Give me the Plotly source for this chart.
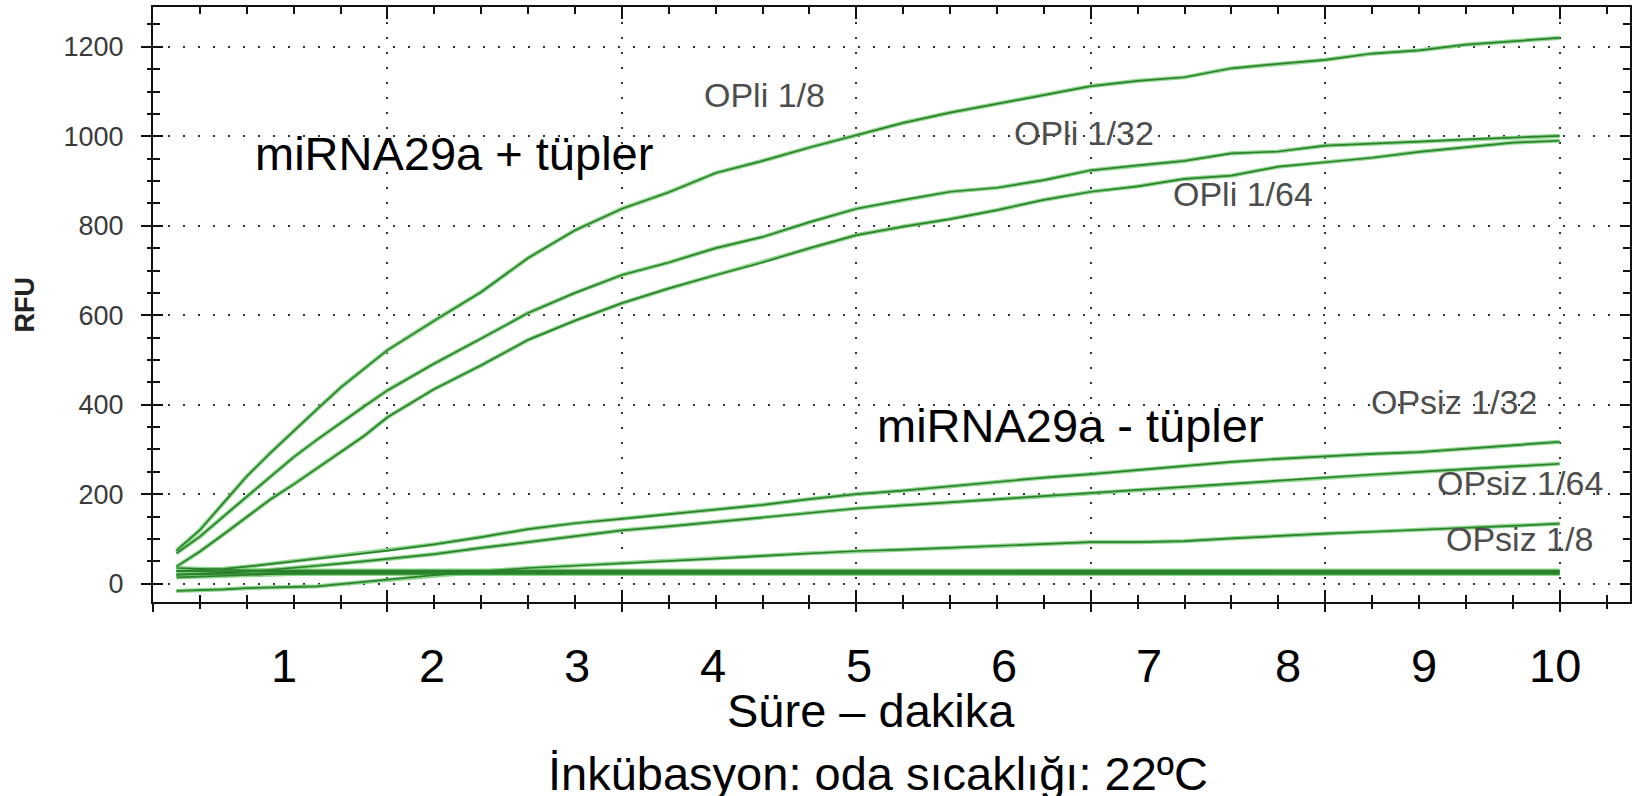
import plotly.graph_objects as go

# ---------------- data ----------------
cycles = [1, 2, 3, 4, 5, 6, 7, 8, 9, 10, 12, 14, 16, 18, 20, 22, 24, 26, 28, 30,
          32, 34, 36, 38, 40, 42, 44, 46, 48, 50, 52, 54, 56, 58, 60]

opli_1_8 = [74, 120, 180, 240, 292, 342, 390, 438, 480, 522, 588, 652, 728, 790, 838,
            875, 918, 945, 975, 1003, 1030, 1053, 1072, 1092, 1112, 1124, 1132, 1152,
            1162, 1171, 1185, 1192, 1205, 1213, 1220]
opli_1_32 = [68, 105, 150, 195, 240, 283, 322, 360, 396, 432, 492, 548, 605, 650, 690,
             718, 750, 775, 808, 838, 858, 876, 885, 902, 924, 935, 945, 962, 966, 979,
             983, 988, 993, 997, 1001]
opli_1_64 = [38, 72, 110, 150, 188, 222, 258, 294, 330, 372, 435, 488, 545, 588, 627,
             660, 690, 718, 750, 779, 798, 815, 835, 858, 876, 888, 905, 912, 932, 942,
             952, 965, 975, 986, 990]
opsiz_1_32 = [28, 30, 33, 38, 44, 50, 56, 62, 68, 74, 88, 104, 122, 135, 145, 155, 165,
              176, 189, 200, 208, 218, 228, 237, 245, 254, 264, 272, 279, 285, 290, 294,
              302, 310, 317]
opsiz_1_64 = [20, 22, 24, 27, 31, 35, 40, 45, 50, 55, 66, 80, 93, 107, 119, 128, 138,
              148, 158, 168, 175, 182, 189, 196, 203, 210, 217, 224, 231, 238, 244, 250,
              256, 262, 268]
opsiz_1_8 = [-16, -15, -13, -10, -9, -8, -6, -1, 4, 8, 19, 27, 35, 40, 45, 50, 56, 62,
             68, 73, 76, 80, 84, 89, 93, 93, 95, 101, 107, 112, 116, 120, 124, 129, 134]
ctrl_a = [35, 33, 31, 30, 29, 29, 29, 29, 29, 29, 29, 29, 29, 29, 29, 29, 29, 29, 29,
          29, 29, 29, 29, 29, 29, 29, 29, 29, 29, 29, 29, 29, 29, 29, 29]
ctrl_b = [28, 28, 27, 27, 27, 27, 27, 27, 27, 27, 27, 27, 27, 27, 27, 27, 27, 27, 27,
          27, 27, 27, 27, 27, 27, 27, 27, 27, 27, 27, 27, 27, 27, 27, 27]
ctrl_c = [20, 21, 22, 23, 24, 25, 25, 25, 25, 25, 25, 25, 25, 25, 25, 25, 25, 25, 25,
          25, 25, 25, 25, 25, 25, 25, 25, 25, 25, 25, 25, 25, 25, 25, 25]
ctrl_d = [14, 16, 18, 20, 21, 22, 22, 22, 22, 22, 22, 22, 22, 22, 22, 22, 22, 22, 22,
          22, 22, 22, 22, 22, 22, 22, 22, 22, 22, 22, 22, 22, 22, 22, 22]

series = [opli_1_8, opli_1_32, opli_1_64, opsiz_1_32, opsiz_1_64, opsiz_1_8,
          ctrl_a, ctrl_b, ctrl_c, ctrl_d]

# curve labels: (text, cycle, RFU)
curve_labels = [("OPli 1/8", 26.1, 1093), ("OPli 1/32", 39.7, 1008),
                ("OPli 1/64", 46.5, 872), ("OPsiz 1/32", 55.5, 405),
                ("OPsiz 1/64", 58.3, 225), ("OPsiz 1/8", 58.3, 100)]
group_labels = [("miRNA29a + tüpler", 12.85, 962), ("miRNA29a - tüpler", 39.15, 354)]

minute_labels = ["1", "2", "3", "4", "5", "6", "7", "8", "9", "10"]
minute_pos = [5.6, 11.9, 18.1, 23.9, 30.1, 36.3, 42.5, 48.4, 54.2, 59.8]

y_ticks = [0, 200, 400, 600, 800, 1000, 1200]

# ---------------- figure ----------------
FONT = "Liberation Sans, Arial, sans-serif"
fig = go.Figure()

for ys in series:
    fig.add_trace(go.Scatter(x=cycles, y=ys, mode="lines", hoverinfo="skip",
                             line=dict(color="rgba(125,208,125,0.85)", width=4.2),
                             showlegend=False))
for ys in series:
    fig.add_trace(go.Scatter(x=cycles, y=ys, mode="lines",
                             line=dict(color="#2c822c", width=1.7),
                             showlegend=False))

# overlay axes carry the inward / mirrored ticks
fig.add_trace(go.Scatter(x=[None], y=[None], xaxis="x2", yaxis="y2",
                         hoverinfo="skip", showlegend=False))

XR = [0, 63]
YR = [-41, 1289]
line_col = "#111111"

fig.update_layout(
    width=1645, height=796, autosize=False,
    margin=dict(l=153, r=15, t=5, b=194),
    plot_bgcolor="white", paper_bgcolor="white",
    showlegend=False,
    font=dict(family=FONT),
    xaxis=dict(range=XR, tickmode="linear", tick0=0, dtick=10,
               showticklabels=False, ticks="outside", ticklen=8, tickwidth=2,
               tickcolor=line_col, showline=True, linecolor=line_col, linewidth=2,
               mirror=True, showgrid=True, gridcolor="#333333", gridwidth=2,
               griddash="2px,13px", zeroline=False,
               minor=dict(tick0=0, dtick=2, ticks="outside", ticklen=5, tickwidth=2,
                          tickcolor=line_col, showgrid=False)),
    xaxis2=dict(range=XR, overlaying="x", side="bottom", tickmode="linear", tick0=0,
                dtick=10, showticklabels=False, ticks="inside", ticklen=12,
                tickwidth=2, tickcolor=line_col, showline=True, linecolor=line_col,
                linewidth=2, mirror="ticks", showgrid=False, zeroline=False,
                minor=dict(tick0=0, dtick=2, ticks="inside", ticklen=7, tickwidth=2,
                           tickcolor=line_col, showgrid=False)),
    yaxis=dict(range=YR, tickmode="array", tickvals=y_ticks,
               ticktext=[str(v) for v in y_ticks],
               ticks="outside", ticklen=10, tickwidth=2, tickcolor=line_col,
               tickfont=dict(family=FONT, size=27, color="#3a3a3a"),
               ticklabelstandoff=12,
               showline=True, linecolor=line_col, linewidth=2, mirror=True,
               showgrid=True, gridcolor="#333333", gridwidth=2,
               griddash="2px,13px", zeroline=False,
               minor=dict(tick0=0, dtick=50, ticks="outside", ticklen=4, tickwidth=2,
                          tickcolor=line_col, showgrid=False)),
    yaxis2=dict(range=YR, overlaying="y", side="left", tickmode="linear", tick0=0,
                dtick=200, showticklabels=False, ticks="inside", ticklen=10,
                tickwidth=2, tickcolor=line_col, showline=True, linecolor=line_col,
                linewidth=2, mirror="ticks", showgrid=False, zeroline=False,
                minor=dict(tick0=0, dtick=50, ticks="inside", ticklen=7, tickwidth=2,
                           tickcolor=line_col, showgrid=False)),
)

ann = []
for txt, cx, cy in curve_labels:
    ann.append(dict(text=txt, x=cx, y=cy, xref="x", yref="y", showarrow=False,
                    xanchor="center", yanchor="middle",
                    font=dict(family=FONT, size=34, color="#4d4d4d")))
for txt, cx, cy in group_labels:
    ann.append(dict(text=txt, x=cx, y=cy, xref="x", yref="y", showarrow=False,
                    xanchor="center", yanchor="middle",
                    font=dict(family=FONT, size=47, color="black")))
for txt, px in zip(minute_labels, minute_pos):
    ann.append(dict(text=txt, x=px, y=-0.106, xref="x", yref="paper",
                    showarrow=False, xanchor="center", yanchor="middle",
                    font=dict(family=FONT, size=47, color="black")))
ann.append(dict(text="Süre – dakika", x=(871 - 153) / 1477, y=-0.1826,
                xref="paper", yref="paper", showarrow=False, xanchor="center",
                yanchor="middle", font=dict(family=FONT, size=47, color="black")))
ann.append(dict(text="İnkübasyon: oda sıcaklığı: 22ºC", x=(878 - 153) / 1477,
                y=-0.288, xref="paper", yref="paper", showarrow=False,
                xanchor="center", yanchor="middle",
                font=dict(family=FONT, size=47, color="black")))
ann.append(dict(text="<b>RFU</b>", x=(24 - 153) / 1477, y=0.5, xref="paper",
                yref="paper", showarrow=False, textangle=-90, xanchor="center",
                yanchor="middle", font=dict(family=FONT, size=27, color="#222222")))
fig.update_layout(annotations=ann)

fig.write_html("out.html", config={"displayModeBar": False},
               post_script="document.body.style.margin='0';"
                           "document.body.style.overflow='hidden';")
